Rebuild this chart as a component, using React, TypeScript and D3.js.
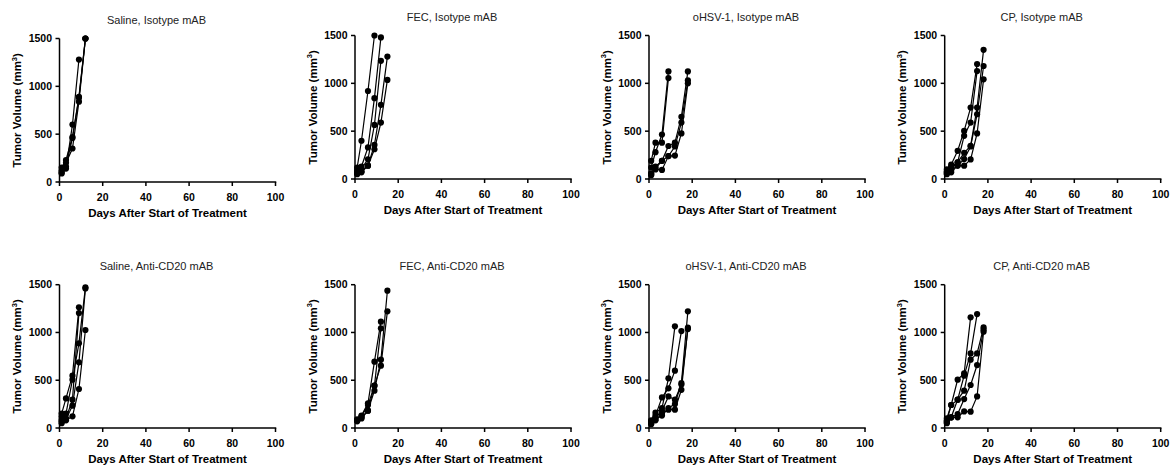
import React from "react";
import * as d3 from "d3";

// Measurement days (index-aligned with each mouse's volume list)
const DAYS = [1, 3, 6, 9, 12, 15, 18];
const X_TICKS = [0, 20, 40, 60, 80, 100];
const Y_TICKS = [0, 500, 1000, 1500];

const salineIso = [
  [90, 140, 600, 1280],
  [150, 230, 470, 890, 1500],
  [120, 200, 350, 840, 1500],
  [100, 160, 460, 880, 1500],
];
const fecIso = [
  [120, 400, 920, 1500],
  [90, 130, 330, 845, 1480],
  [70, 110, 206, 565, 1235],
  [60, 80, 139, 356, 775, 1280],
  [50, 70, 139, 311, 590, 1036],
];
const ohsvIso = [
  [190, 380, 380, 1055],
  [120, 280, 465, 1125],
  [60, 130, 190, 345, 380, 650, 1125],
  [50, 110, 190, 240, 340, 590, 1030],
  [40, 100, 95, 240, 245, 476, 1000],
];
const cpIso = [
  [100, 150, 295, 503, 747, 1201],
  [80, 130, 175, 451, 590, 1128],
  [70, 110, 175, 274, 347, 747, 1350],
  [60, 90, 140, 208, 340, 677, 1181],
  [50, 70, 140, 139, 205, 476, 1042],
];
const salineAnti = [
  [150, 310, 548, 1263],
  [120, 150, 506, 886, 1472],
  [90, 100, 297, 1203],
  [70, 90, 234, 687, 1460],
  [50, 80, 122, 408, 1026],
];
const fecAnti = [
  [80, 130, 258, 694, 1113],
  [90, 110, 181, 443, 1043],
  [70, 100, 181, 391, 715, 1437],
  [80, 120, 240, 443, 652, 1221],
];
const ohsvAnti = [
  [80, 160, 209, 520, 1064],
  [70, 130, 320, 415, 600, 1015],
  [50, 90, 130, 209, 251, 470, 1221],
  [40, 80, 150, 192, 192, 400, 1050],
  [60, 110, 180, 330, 297, 455, 1036],
];
const cpAnti = [
  [100, 241, 506, 572, 1158],
  [80, 241, 297, 548, 781, 1193],
  [70, 112, 297, 391, 715, 781, 1053],
  [60, 112, 146, 303, 450, 659, 1029],
  [50, 112, 112, 174, 171, 331, 1008],
];

const TITLES = [
  "Saline, Isotype mAB",
  "FEC, Isotype mAB",
  "oHSV-1, Isotype mAB",
  "CP, Isotype mAB",
  "Saline, Anti-CD20 mAB",
  "FEC, Anti-CD20 mAB",
  "oHSV-1, Anti-CD20 mAB",
  "CP, Anti-CD20 mAB",
];
const SERIES = [salineIso, fecIso, ohsvIso, cpIso, salineAnti, fecAnti, ohsvAnti, cpAnti];

// panel plot boxes: left, top, bottom
const BOXES = [
  [59.5, 38.5, 182],
  [355, 35.5, 179],
  [649, 35.5, 179],
  [944.7, 35.5, 179],
  [59.5, 284.7, 428],
  [355, 284.7, 428],
  [649, 284.7, 428],
  [944.7, 284.7, 428],
];
const PLOT_W = 216;
const FONT = "'Liberation Sans', Arial, Helvetica, sans-serif";

function Panel({ idx }: { idx: number }) {
  const [left, top, bottom] = BOXES[idx];
  const x = d3.scaleLinear().domain([0, 100]).range([left, left + PLOT_W]);
  const y = d3.scaleLinear().domain([0, 1500]).range([bottom, top]);
  const line = d3
    .line<[number, number]>()
    .x((d) => x(d[0]))
    .y((d) => y(d[1]));
  const series = SERIES[idx].map((vals) => vals.map((v, i) => [DAYS[i], v] as [number, number]));
  const cx = left + PLOT_W / 2;
  const midY = (top + bottom) / 2;
  return (
    <g>
      <text x={cx - 11} y={top - 15} textAnchor="middle" fontSize={11} fontFamily={FONT} fill="#222">
        {TITLES[idx]}
      </text>
      {/* axes */}
      <line x1={x(0)} x2={x(0)} y1={y(1500)} y2={y(0)} stroke="#000" strokeWidth={1.5} />
      <line x1={x(0) - 0.75} x2={x(100) + 0.75} y1={y(0)} y2={y(0)} stroke="#000" strokeWidth={1.5} />
      {Y_TICKS.map((t) => (
        <g key={"y" + t}>
          <line x1={x(0) - 4} x2={x(0)} y1={y(t)} y2={y(t)} stroke="#000" strokeWidth={1.5} />
          <text x={x(0) - 7.5} y={y(t) + 3.7} textAnchor="end" fontSize={10.5} fontWeight="bold" fontFamily={FONT}>
            {t}
          </text>
        </g>
      ))}
      {X_TICKS.map((t) => (
        <g key={"x" + t}>
          <line x1={x(t)} x2={x(t)} y1={y(0)} y2={y(0) + 4} stroke="#000" strokeWidth={1.5} />
          <text x={x(t)} y={y(0) + 19} textAnchor="middle" fontSize={10.5} fontWeight="bold" fontFamily={FONT}>
            {t}
          </text>
        </g>
      ))}
      <text x={cx} y={bottom + 35} textAnchor="middle" fontSize={11.5} fontWeight="bold" fontFamily={FONT}>
        Days After Start of Treatment
      </text>
      <text
        transform={`translate(${left - 38.5},${midY}) rotate(-90)`}
        textAnchor="middle"
        fontSize={11.5}
        fontWeight="bold"
        fontFamily={FONT}
      >
        Tumor Volume (mm
        <tspan fontSize={7.5} dy={-4.5}>3</tspan>
        <tspan dy={4.5}>)</tspan>
      </text>
      {series.map((s, i) => (
        <path key={"l" + i} d={line(s) || ""} fill="none" stroke="#000" strokeWidth={1.2} />
      ))}
      {series.map((s, i) =>
        s.map((d, j) => <circle key={`c${i}-${j}`} cx={x(d[0])} cy={y(d[1])} r={3.1} fill="#000" />)
      )}
    </g>
  );
}

export default function App() {
  return (
    <svg
      width={1174}
      height={468}
      style={{ position: "absolute", left: 0, top: 0, background: "#fff" }}
    >
      <rect width={1174} height={468} fill="#fff" />
      {BOXES.map((_, i) => (
        <Panel key={i} idx={i} />
      ))}
    </svg>
  );
}
